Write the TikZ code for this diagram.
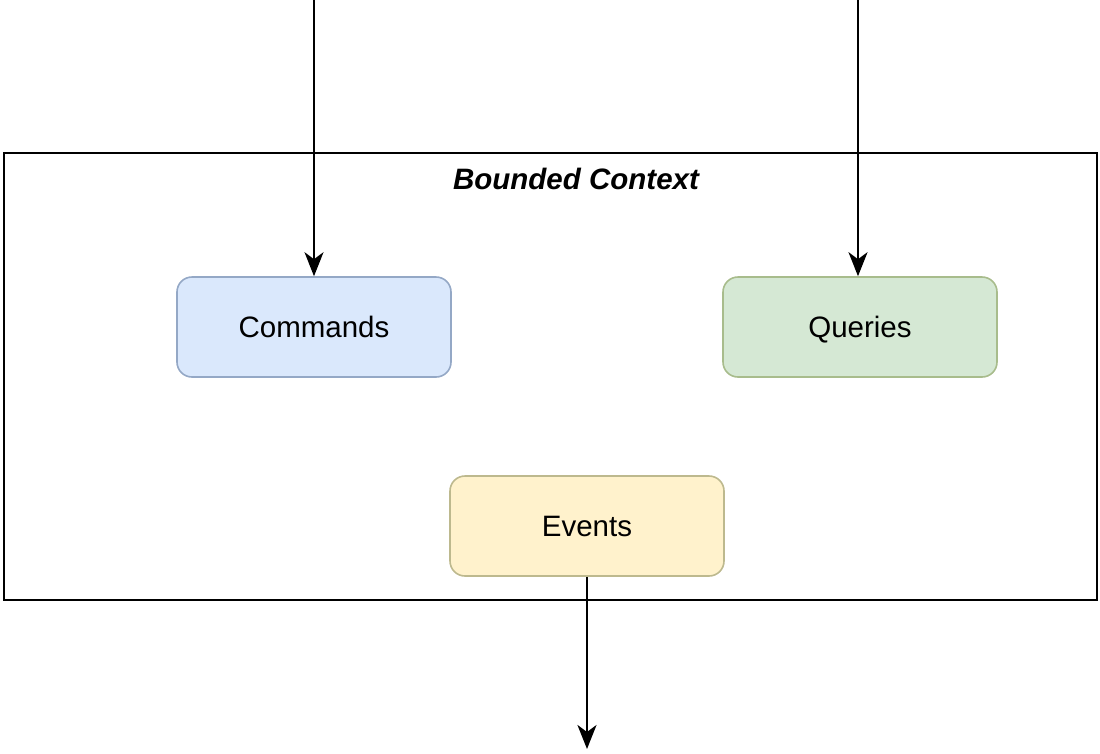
\documentclass[tikz,border=0pt]{standalone}
\usepackage{fontspec}
\setmainfont{Liberation Sans}
\usetikzlibrary{arrows.meta}
\definecolor{cmdfill}{HTML}{DAE8FC}
\definecolor{cmddraw}{HTML}{94A8C6}
\definecolor{qryfill}{HTML}{D5E8D4}
\definecolor{qrydraw}{HTML}{A8BC8C}
\definecolor{evtfill}{HTML}{FFF2CC}
\definecolor{evtdraw}{HTML}{BDB98E}
\tikzset{
  box/.style={rounded corners=15pt, line width=1.6pt, minimum width=274pt, minimum height=100pt, inner sep=0pt, text height=24pt, text depth=3pt, font=\fontsize{29.5}{34}\selectfont},
  conn/.style={line width=2.2pt, -{Stealth[length=24pt,width=19pt,inset=7pt]}},
}
\begin{document}
\begin{tikzpicture}[x=1pt,y=-1pt]
\useasboundingbox (0,0) rectangle (1100,753);
\node[draw, line width=2pt, minimum width=1093pt, minimum height=447pt, inner sep=0pt] (ctx) at (550.5,376.5) {};
\node[font=\fontsize{29.5}{34}\selectfont\bfseries\itshape] (title) at (576,179) {Bounded Context};
\node[box, fill=cmdfill, draw=cmddraw] (cmd) at (314,327) {Commands};
\node[box, fill=qryfill, draw=qrydraw] (qry) at (860,327) {Queries};
\node[box, fill=evtfill, draw=evtdraw] (evt) at (587,526) {Events};
\coordinate (cin) at (314,0);
\coordinate (qin) at (858,0);
\coordinate (eout) at (587,749);
\draw[conn] (cin) -- (cmd.north);
\draw[conn] (qin) -- (qin |- qry.north);
\draw[conn] (evt.south) -- (eout);
\end{tikzpicture}
\end{document}
